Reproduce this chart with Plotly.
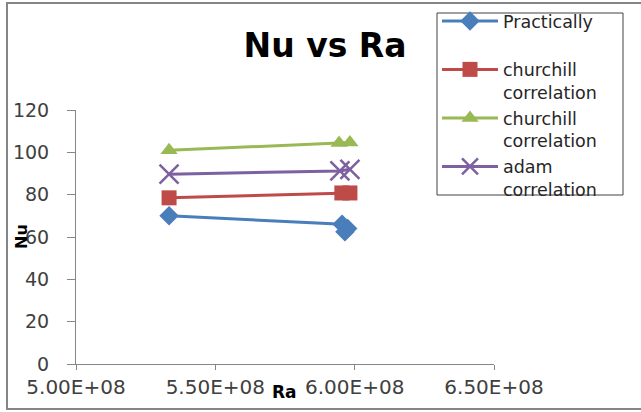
import plotly.graph_objects as go

# Data (Ra, Nu)
ra_practical = [5.334e8, 5.955e8, 5.965e8, 5.975e8]
nu_practical = [70, 66, 62.5, 64]
ra_churchill1 = [5.334e8, 5.954e8, 5.983e8]
nu_churchill1 = [78.5, 80.8, 80.8]
ra_churchill2 = [5.334e8, 5.944e8, 5.983e8]
nu_churchill2 = [101, 104.4, 104.6]
ra_adam = [5.334e8, 5.947e8, 5.983e8]
nu_adam = [89.7, 91.2, 92.0]

names = ["Practically<br>&nbsp;", "churchill<br>correlation", "churchill<br>correlation", "adam<br>correlation"]
colors = ["#4A7EBB", "#BE4B48", "#98B954", "#7D60A0"]
symbols = ["diamond", "square", "triangle-up", "x-thin-open"]

x_ticks = [5.0e8, 5.5e8, 6.0e8, 6.5e8]
x_ticktext = ["5.00E+08", "5.50E+08", "6.00E+08", "6.50E+08"]
y_ticks = [0, 20, 40, 60, 80, 100, 120]

series = [(ra_practical, nu_practical), (ra_churchill1, nu_churchill1),
          (ra_churchill2, nu_churchill2), (ra_adam, nu_adam)]

fig = go.Figure()
for (xs, ys), name, c, s in zip(series, names, colors, symbols):
    size = 19 if s == "x-thin-open" else 15
    fig.add_trace(go.Scatter(
        x=xs, y=ys, mode="lines+markers", name=name,
        line=dict(color=c, width=3),
        marker=dict(symbol=s, size=size, color=c, line=dict(color=c, width=2.5 if s == "x-thin-open" else 0)),
    ))

font_family = "DejaVu Sans"
W, H = 641, 412
fig.update_layout(
    width=W, height=H,
    margin=dict(l=76, r=147, t=110, b=48, autoexpand=False),
    paper_bgcolor="white", plot_bgcolor="white",
    showlegend=True,
    title=dict(text="<b>Nu vs Ra</b>", x=325/641, xanchor="center", y=1 - 45/412, yanchor="middle",
               font=dict(family=font_family, size=33, color="black")),
    legend=dict(x=(437 - 76) / 418, y=(364 - 3) / 254, xanchor="left", yanchor="top",
                borderwidth=0, bgcolor="rgba(0,0,0,0)",
                font=dict(family=font_family, size=17.5, color="#262626"),
                valign="top", tracegroupgap=0, itemwidth=56, maxheight=400),
    xaxis=dict(range=[5.0e8, 6.5e8], tickvals=x_ticks, ticktext=x_ticktext,
               showgrid=False, zeroline=False, showline=True, linecolor="#868686", linewidth=1,
               ticks="outside", ticklen=5, tickcolor="#868686",
               tickfont=dict(family=font_family, size=20, color="#404040")),
    yaxis=dict(range=[0, 120], tickvals=y_ticks,
               showgrid=False, zeroline=False, showline=True, linecolor="#868686", linewidth=1,
               ticks="outside", ticklen=8, tickcolor="#868686", ticklabelstandoff=14,
               tickfont=dict(family=font_family, size=19, color="#404040")),
    shapes=[dict(type="rect", xref="paper", yref="paper",
                 x0=(7 - 76) / 418, x1=(660 - 76) / 418, y0=(364 - 409) / 254, y1=(364 - 3) / 254,
                 line=dict(color="#868686", width=2), layer="below"),
            dict(type="rect", xref="paper", yref="paper",
                 x0=(437 - 76) / 418, x1=(623 - 76) / 418, y0=(364 - 195) / 254, y1=(364 - 13) / 254,
                 line=dict(color="#404040", width=1), fillcolor="white", layer="below")],
    annotations=[dict(text="<b>Nu</b>", xref="paper", yref="paper", x=(21 - 76) / 418, y=(364 - 237) / 254,
                      textangle=-90, showarrow=False, font=dict(family=font_family, size=16, color="black"),
                      xanchor="center", yanchor="middle"),
                 dict(text="<b>Ra</b>", xref="paper", yref="paper", x=(284 - 76) / 418, y=(364 - 392) / 254,
                      showarrow=False, font=dict(family=font_family, size=17, color="black"),
                      xanchor="center", yanchor="middle")],
)

fig.write_html("out.html")
